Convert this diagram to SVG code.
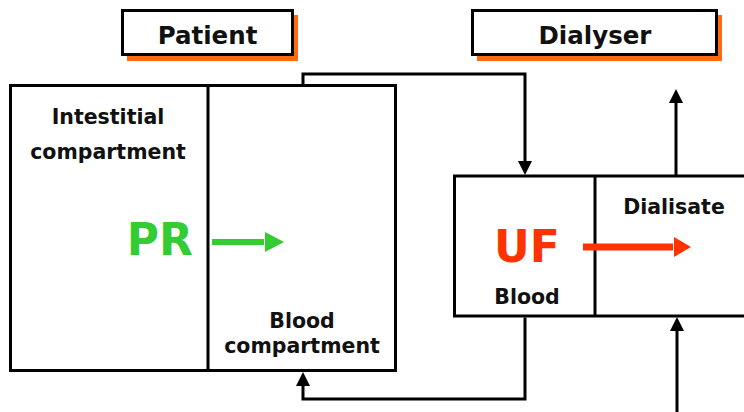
<svg xmlns="http://www.w3.org/2000/svg" width="744" height="412" viewBox="0 0 744 412">
  <defs>
    <marker id="tri" markerUnits="userSpaceOnUse" markerWidth="15" markerHeight="14" refX="4" refY="7" orient="auto">
      <path d="M0,0 L14,7 L0,14 z" fill="#000"/>
    </marker>
  </defs>
  <style>
    .box { fill: #fff; stroke: #000; stroke-width: 3; }
    .shadow { fill: #ff6a10; }
    .head { font-family: "DejaVu Sans", Verdana, sans-serif; font-weight: bold; font-size: 24.5px; fill: #111; text-anchor: middle; }
    .lbl { font-family: "DejaVu Sans", Verdana, sans-serif; font-weight: bold; font-size: 20.5px; fill: #111; text-anchor: middle; }
    .big { font-family: "DejaVu Sans", Verdana, sans-serif; font-weight: bold; font-size: 44px; }
    .conn { fill: none; stroke: #000; stroke-width: 3; marker-end: url(#tri); }
  </style>

  <!-- title: Patient -->
  <g id="title-patient">
    <rect class="shadow" x="127" y="15" width="171" height="46"/>
    <rect class="box" x="122.5" y="10.5" width="170" height="44"/>
    <text class="head" x="207.5" y="44">Patient</text>
  </g>

  <!-- title: Dialyser -->
  <g id="title-dialyser">
    <rect class="shadow" x="477" y="15" width="245" height="46"/>
    <rect class="box" x="472.5" y="10.5" width="244" height="44"/>
    <text class="head" x="595" y="44">Dialyser</text>
  </g>

  <!-- patient compartments -->
  <g id="patient">
    <rect class="box" x="10.5" y="85.5" width="385" height="285"/>
    <line x1="208" y1="85.5" x2="208" y2="370.5" stroke="#000" stroke-width="3"/>
    <text class="lbl" x="108" y="124">Intestitial</text>
    <text class="lbl" x="108" y="159">compartment</text>
    <text class="lbl" x="302" y="328">Blood</text>
    <text class="lbl" x="302" y="353">compartment</text>
    <text class="big" x="193" y="255" text-anchor="end" fill="#33cc33">PR</text>
    <rect x="212" y="239" width="52" height="6" fill="#33cc33"/>
    <polygon points="265,232 284,242 265,252" fill="#33cc33"/>
  </g>

  <!-- dialyser compartments -->
  <g id="dialyser">
    <rect class="box" x="454.5" y="176" width="300" height="140"/>
    <line x1="595" y1="176" x2="595" y2="316" stroke="#000" stroke-width="3"/>
    <text class="big" x="527" y="262" text-anchor="middle" fill="#ff3300">UF</text>
    <text class="lbl" x="527" y="304">Blood</text>
    <text class="lbl" x="674" y="214">Dialisate</text>
    <rect x="583" y="243.5" width="90" height="7" fill="#ff3300"/>
    <polygon points="674,237 691,247 674,257" fill="#ff3300"/>
  </g>

  <!-- flow connectors -->
  <g id="connectors">
    <path class="conn" d="M303,85 V74 H525 V165"/>
    <path class="conn" d="M525,317.5 V399 H303 V382"/>
    <path class="conn" d="M676,175 V99"/>
    <path class="conn" d="M677,412 V327"/>
  </g>
</svg>
